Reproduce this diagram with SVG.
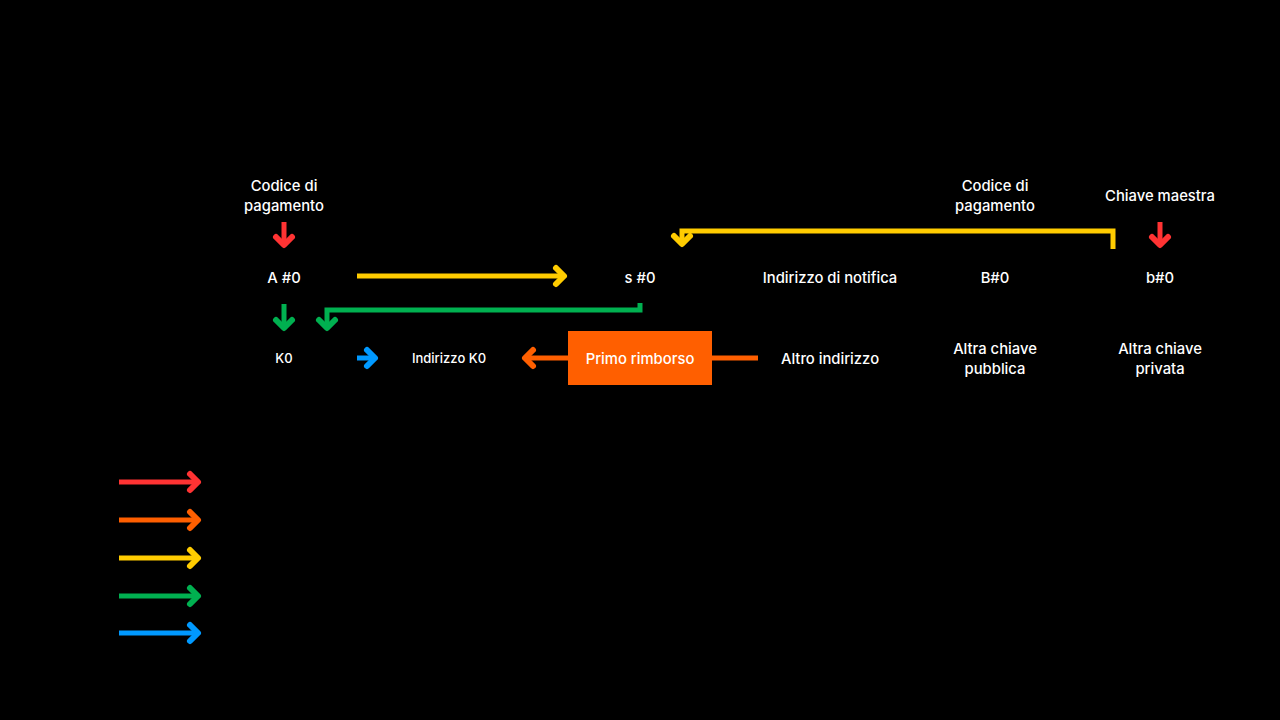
<svg xmlns="http://www.w3.org/2000/svg" width="1280" height="720" viewBox="0 0 1280 720">
  <style>
    text { font-family: "Inter", "Noto Sans", "Liberation Sans", sans-serif; font-weight: 500; fill: #ffffff; text-anchor: middle; dominant-baseline: central; }
    .lbl { font-size: 14.8px; }
    .sm { font-size: 13px; }
    .ln { fill: none; stroke-width: 5; }
    .red { stroke: #ff3333; }
    .orange { stroke: #ff5f00; }
    .yellow { stroke: #ffcc00; }
    .green { stroke: #00b050; }
    .blue { stroke: #0099ff; }
    .head { fill: none; stroke-width: 6; stroke-linecap: round; stroke-linejoin: round; }
  </style>
  <defs>
    <marker id="ah-red" markerUnits="userSpaceOnUse" viewBox="-15 -15 30 30" markerWidth="30" markerHeight="30" refX="0" refY="0" orient="auto">
      <path class="head" stroke="#ff3333" d="M-8,-8 L0,0 L-8,8"/>
    </marker>
    <marker id="ah-orange" markerUnits="userSpaceOnUse" viewBox="-15 -15 30 30" markerWidth="30" markerHeight="30" refX="0" refY="0" orient="auto">
      <path class="head" stroke="#ff5f00" d="M-8,-8 L0,0 L-8,8"/>
    </marker>
    <marker id="ah-yellow" markerUnits="userSpaceOnUse" viewBox="-15 -15 30 30" markerWidth="30" markerHeight="30" refX="0" refY="0" orient="auto">
      <path class="head" stroke="#ffcc00" d="M-8,-8 L0,0 L-8,8"/>
    </marker>
    <marker id="ah-green" markerUnits="userSpaceOnUse" viewBox="-15 -15 30 30" markerWidth="30" markerHeight="30" refX="0" refY="0" orient="auto">
      <path class="head" stroke="#00b050" d="M-8,-8 L0,0 L-8,8"/>
    </marker>
    <marker id="ah-blue" markerUnits="userSpaceOnUse" viewBox="-15 -15 30 30" markerWidth="30" markerHeight="30" refX="0" refY="0" orient="auto">
      <path class="head" stroke="#0099ff" d="M-8,-8 L0,0 L-8,8"/>
    </marker>
  </defs>

  <rect x="0" y="0" width="1280" height="720" fill="#000000"/>

  <!-- connectors -->
  <g id="connectors">
    <line class="ln red" x1="284" y1="222" x2="284" y2="245" marker-end="url(#ah-red)"/>
    <line class="ln red" x1="1160" y1="222" x2="1160" y2="245" marker-end="url(#ah-red)"/>
    <line class="ln yellow" x1="357" y1="276" x2="564" y2="276" marker-end="url(#ah-yellow)"/>
    <polyline class="ln yellow" points="1113,249 1113,231 682,231 682,244" marker-end="url(#ah-yellow)"/>
    <line class="ln green" x1="284" y1="304" x2="284" y2="328" marker-end="url(#ah-green)"/>
    <polyline class="ln green" points="640,303 640,310 327,310 327,328" marker-end="url(#ah-green)"/>
    <line class="ln blue" x1="357" y1="358" x2="375" y2="358" marker-end="url(#ah-blue)"/>
    <line class="ln orange" x1="568" y1="358" x2="525" y2="358" marker-end="url(#ah-orange)"/>
    <line class="ln orange" x1="712" y1="358" x2="758" y2="358"/>
  </g>

  <g id="codice-a">
    <text class="lbl" x="284" y="185.5">Codice di</text>
    <text class="lbl" x="284" y="205.5">pagamento</text>
  </g>
  <g id="a0"><text class="lbl" x="284" y="277.5">A #0</text></g>
  <g id="s0"><text class="lbl" x="640" y="277.5">s #0</text></g>
  <g id="k0"><text class="sm" x="284" y="357.5">K0</text></g>
  <g id="indirizzo-k0"><text class="sm" x="449" y="357.5">Indirizzo K0</text></g>
  <g id="primo-rimborso">
    <rect x="568" y="331" width="144" height="54" fill="#ff5f00"/>
    <text class="lbl" x="640" y="358.5">Primo rimborso</text>
  </g>
  <g id="altro-indirizzo"><text class="lbl" x="830" y="358.5">Altro indirizzo</text></g>
  <g id="indirizzo-notifica"><text class="lbl" x="830" y="277.5">Indirizzo di notifica</text></g>
  <g id="codice-b">
    <text class="lbl" x="995" y="185.5">Codice di</text>
    <text class="lbl" x="995" y="205.5">pagamento</text>
  </g>
  <g id="b0-pub"><text class="lbl" x="995" y="277.5">B#0</text></g>
  <g id="altra-pubblica">
    <text class="lbl" x="995" y="348.5">Altra chiave</text>
    <text class="lbl" x="995" y="368.5">pubblica</text>
  </g>
  <g id="chiave-maestra"><text class="lbl" x="1160" y="195.5">Chiave maestra</text></g>
  <g id="b0-priv"><text class="lbl" x="1160" y="277.5">b#0</text></g>
  <g id="altra-privata">
    <text class="lbl" x="1160" y="348.5">Altra chiave</text>
    <text class="lbl" x="1160" y="368.5">privata</text>
  </g>

  <!-- colour legend -->
  <g id="legend">
    <line class="ln red" x1="119" y1="482" x2="198" y2="482" marker-end="url(#ah-red)"/>
    <line class="ln orange" x1="119" y1="520" x2="198" y2="520" marker-end="url(#ah-orange)"/>
    <line class="ln yellow" x1="119" y1="558" x2="198" y2="558" marker-end="url(#ah-yellow)"/>
    <line class="ln green" x1="119" y1="596" x2="198" y2="596" marker-end="url(#ah-green)"/>
    <line class="ln blue" x1="119" y1="633" x2="198" y2="633" marker-end="url(#ah-blue)"/>
  </g>
</svg>
